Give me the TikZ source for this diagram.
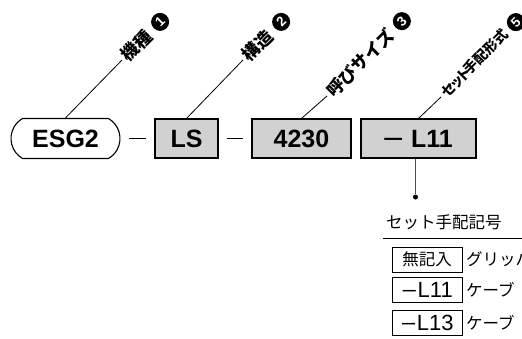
\documentclass[tikz,border=0pt]{standalone}
\usepackage{fontspec}
\setmainfont{Liberation Sans}
\newfontfamily\jp{Noto Sans CJK JP}
\usetikzlibrary{shapes.misc}
\definecolor{boxgray}{gray}{0.82}
\tikzset{
  mainbox/.style={draw, line width=1.1pt, fill=boxgray, minimum height=39pt, inner sep=0pt,
    font=\fontsize{25}{25}\selectfont\bfseries},
  esgbox/.style={mainbox, fill=white, rounded rectangle, rounded rectangle arc length=120, minimum height=40pt},
  leader/.style={line width=0.8pt},
  lab/.style={anchor=west, rotate=45, inner xsep=3pt, inner ysep=0pt, font=\jp\bfseries\fontsize{17.5}{17.5}\selectfont},
  circnum/.style={circle, fill=black, text=white, minimum size=18pt, inner sep=0pt, anchor=west,
    rotate=45, outer sep=3.5pt, font=\fontsize{13.5}{13.5}\selectfont\bfseries},
  joiner/.style={line width=1pt, shorten <=8pt, shorten >=8pt},
  tbox/.style={draw, line width=0.8pt, minimum width=70pt, minimum height=25pt, inner sep=0pt},
  ttext/.style={font=\jp\fontsize{16.5}{16.5}\selectfont},
  enddot/.style={circle, fill=black, inner sep=0pt, minimum size=5pt},
}
\begin{document}
\begin{tikzpicture}[x=1pt,y=-1pt]
\useasboundingbox (0,0) rectangle (522,338);
\clip (0,0) rectangle (522,338);
% main boxes
\node[esgbox, minimum width=109pt] (esg) at (65.5,138.5) {ESG2};
\node[mainbox, minimum width=63pt] (ls) at (186.5,138.5) {LS};
\node[mainbox, minimum width=99pt] (sz) at (301.5,138.5) {4230};
\node[mainbox, minimum width=115pt] (st) at (418.5,138.5) {{\mdseries\fontsize{32}{32}\selectfont –}\hspace{9pt}L11\hspace{8pt}};
% joiners
\draw[joiner] (esg.east) -- (ls.west);
\draw[joiner] (ls.east) -- (sz.west);
% leaders
\coordinate (t1) at (122,60);
\coordinate (t2) at (243,60);
\coordinate (t3) at (327,96);
\coordinate (t4) at (441,97);
\draw[leader] (esg.north) -- (t1);
\draw[leader] (ls.north) -- (t2);
\draw[leader] (sz.north) -- (t3);
\draw[leader] (st.north) -- (t4);
\node[lab] (l1) at (t1) {機種};
\node[lab] (l2) at (t2) {構造};
\node[lab] (l3) at (t3) {呼びサイズ};
\node[lab, font=\jp\bfseries\fontsize{14}{14}\selectfont] (l4) at (t4) {セ\kern-2.5pt ッ\kern-4pt ト\kern-3pt 手配形式};
\node[circnum] (c1) at (l1.east) {1};
\node[circnum] (c2) at (l2.east) {2};
\node[circnum] (c3) at (l3.east) {3};
\node[circnum, outer sep=2pt] (c4) at (l4.east) {5};
% lower leader
\node[enddot] (dt) at (415.5,197) {};
\draw[line width=0.8pt, black!70] (dt |- st.south) -- (dt);
% table
\node[ttext, anchor=west, inner sep=0pt] (ttl) at (386,222.5) {セット手配記号};
\draw[line width=0.8pt] (383,238) -- (522,238);
\node[tbox, ttext] (k1) at (427,259.5) {無記入};
\node[tbox, font=\fontsize{22}{22}\selectfont] (k2) at (427,289.5) {{\jp\fontsize{16.5}{16.5}\selectfont ー}L11};
\node[tbox, font=\fontsize{22}{22}\selectfont] (k3) at (427,322.5) {{\jp\fontsize{16.5}{16.5}\selectfont ー}L13};
\node[ttext, anchor=west, inner xsep=3.5pt, inner ysep=0pt] (d1) at (k1.east) {グリッパ};
\node[ttext, anchor=west, inner xsep=3.5pt, inner ysep=0pt] (d2) at (k2.east) {ケーブ};
\node[ttext, anchor=west, inner xsep=3.5pt, inner ysep=0pt] (d3) at (k3.east) {ケーブ};
\end{tikzpicture}
\end{document}
